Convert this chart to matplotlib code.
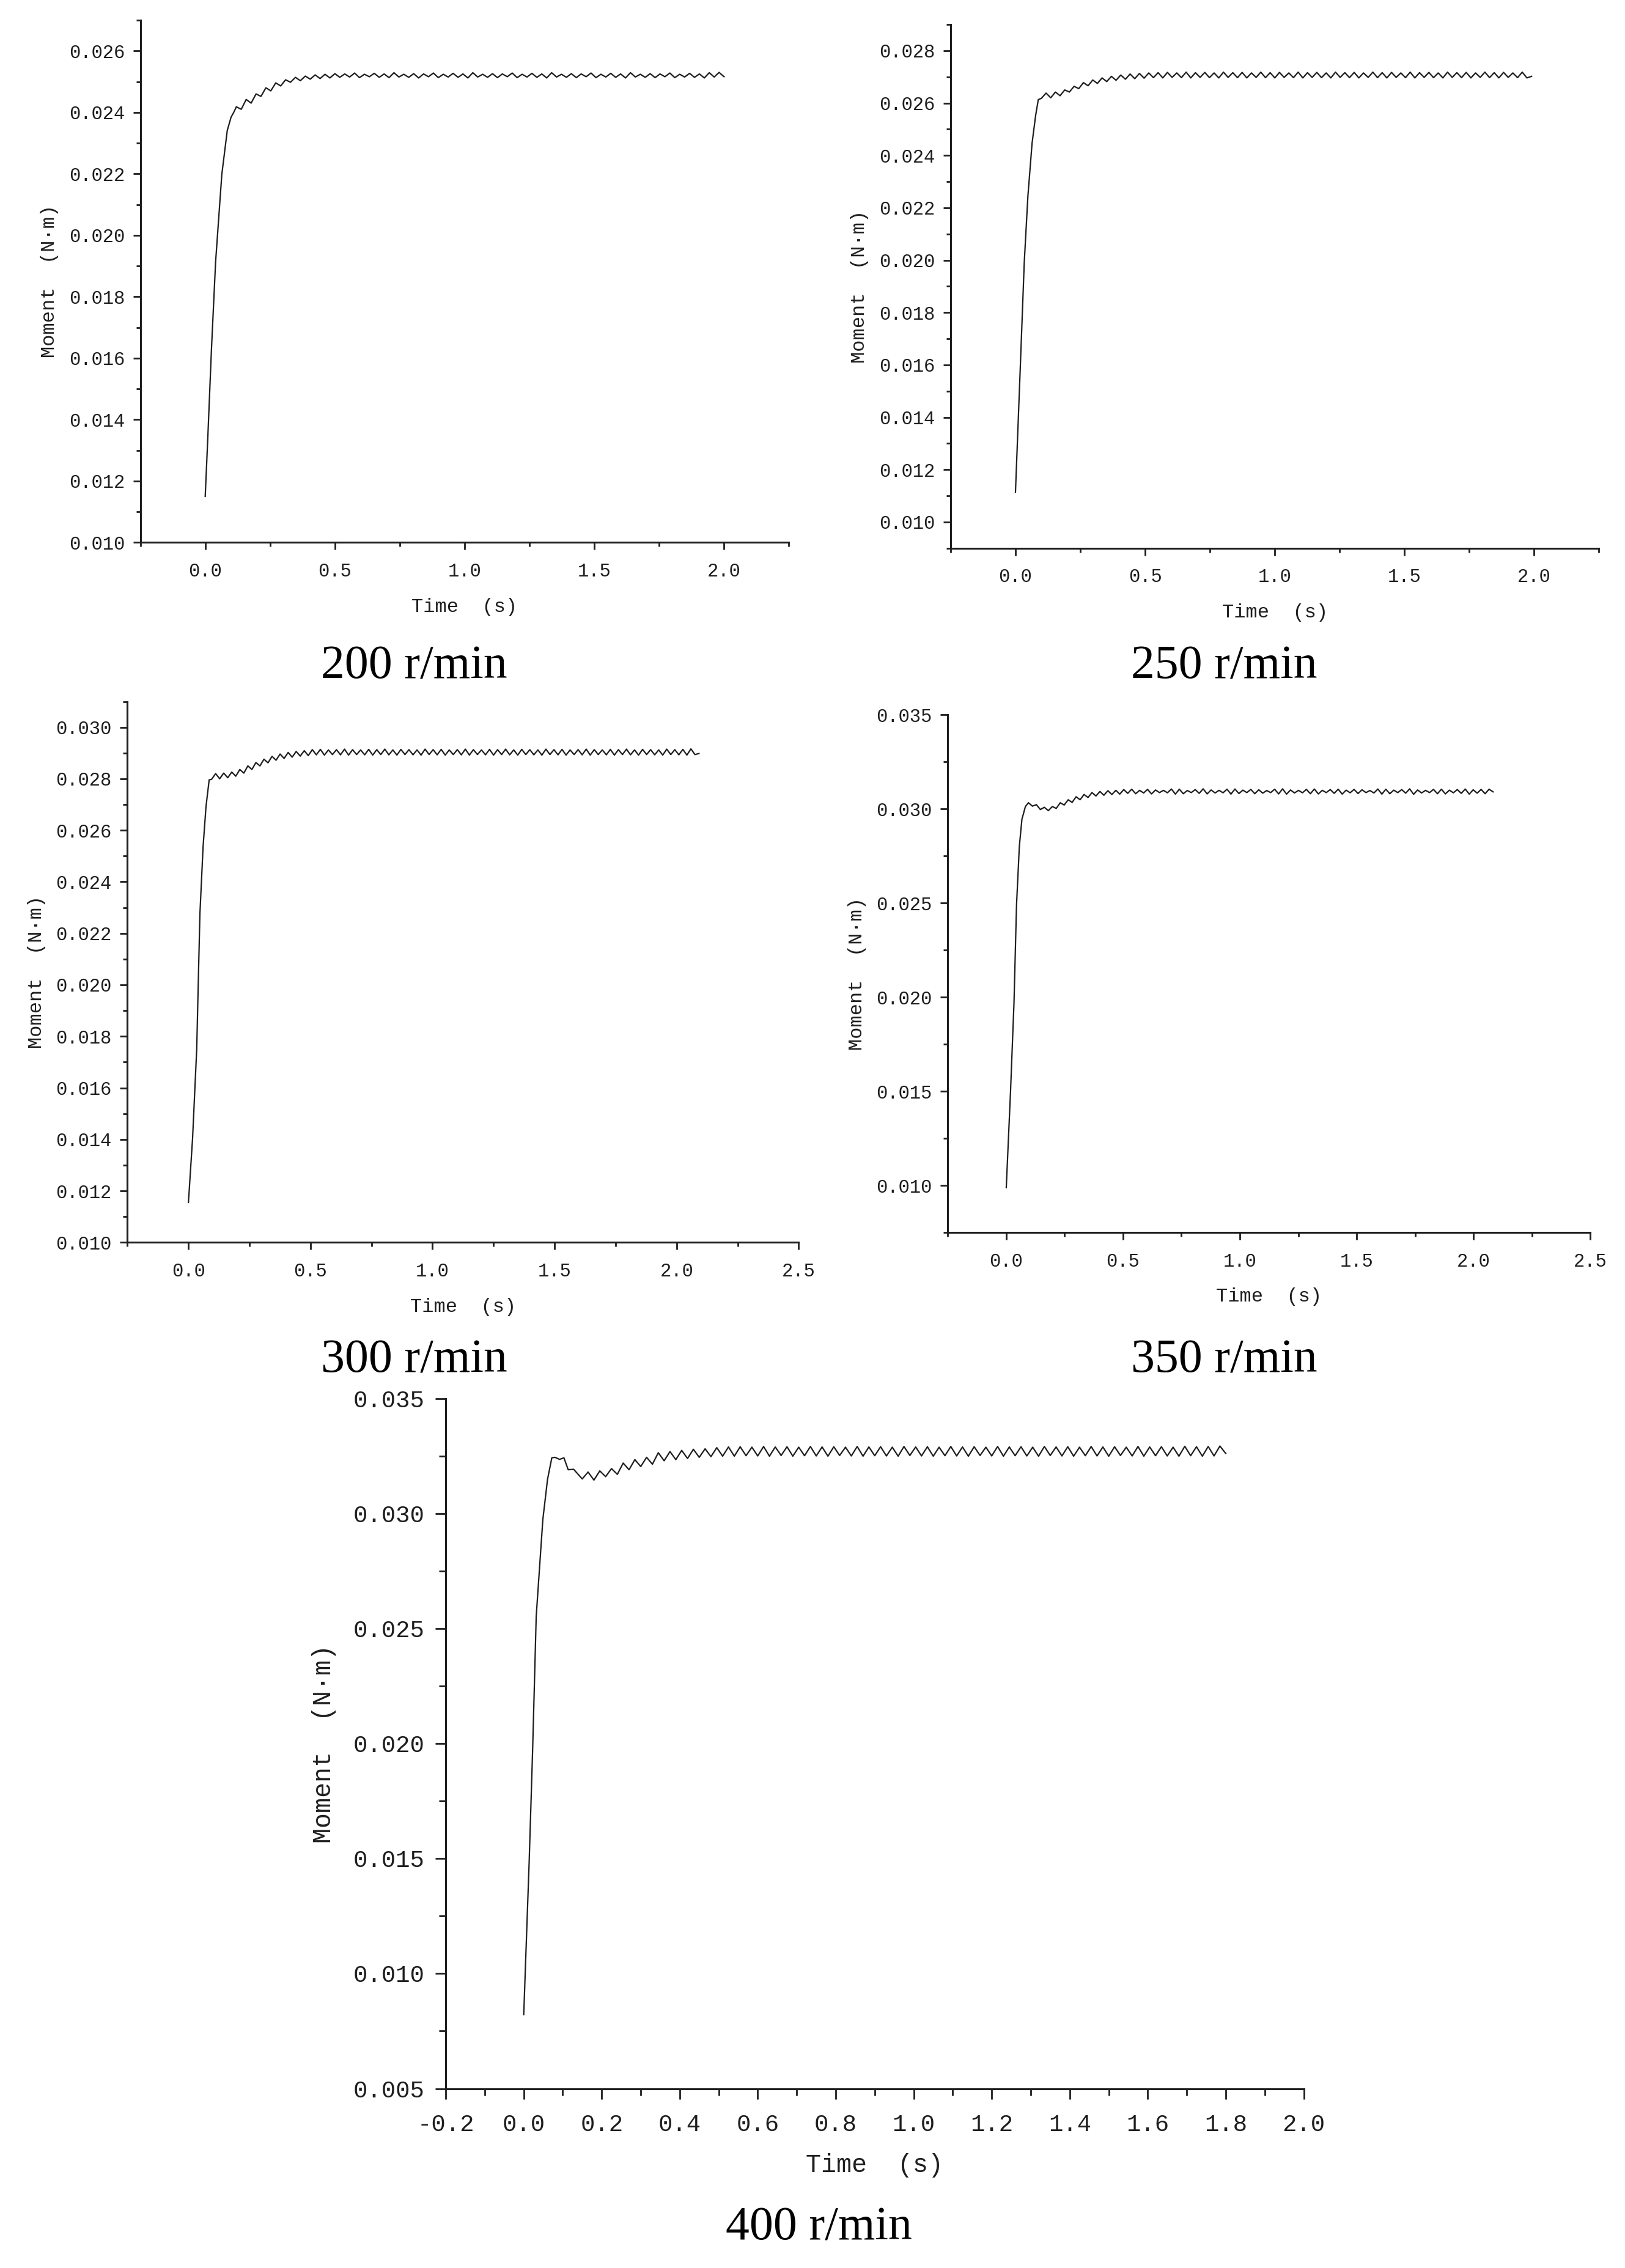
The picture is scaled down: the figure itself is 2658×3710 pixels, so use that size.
import numpy as np
import matplotlib as mpl
mpl.use('Agg')
import matplotlib.pyplot as plt
from matplotlib.ticker import MultipleLocator, FormatStrFormatter

speeds = ['200 r/min', '250 r/min', '300 r/min', '350 r/min', '400 r/min']

# ---- start-up part: time (s), moment (mN·m) ----
t_up_200 = [0.0, 0.010, 0.024, 0.040, 0.064, 0.085, 0.100, 0.110]
m_up_200 = [11.5, 13.42, 16.28, 19.13, 21.98, 23.41, 23.85, 24.0]
# ripple part, one sample every half ripple period
t0_200, dt_200 = 0.12, 0.019
m_rip_200 = [24.18, 24.10, 24.42, 24.30, 24.60, 24.52, 24.80, 24.70, 24.96, 24.86,
             25.06, 24.98, 25.14, 25.03, 25.18, 25.08, 25.22, 25.10, 25.24, 25.12,
             25.26, 25.14, 25.25, 25.15, 25.28, 25.13, 25.24, 25.16, 25.27, 25.14,
             25.25, 25.13, 25.29, 25.15, 25.24, 25.14, 25.26, 25.12, 25.25, 25.16,
             25.28, 25.13, 25.24, 25.15, 25.27, 25.14, 25.25, 25.12, 25.29, 25.15,
             25.24, 25.14, 25.26, 25.13, 25.25, 25.16, 25.28, 25.13, 25.24, 25.15,
             25.27, 25.14, 25.25, 25.12, 25.29, 25.15, 25.24, 25.14, 25.26, 25.13,
             25.25, 25.16, 25.28, 25.13, 25.24, 25.15, 25.27, 25.14, 25.25, 25.12,
             25.29, 25.15, 25.24, 25.14, 25.26, 25.13, 25.25, 25.16, 25.28, 25.13,
             25.24, 25.15, 25.27, 25.14, 25.25, 25.12, 25.29, 25.15, 25.30, 25.16]

t_up_250 = [0.0, 0.018, 0.034, 0.048, 0.064, 0.078, 0.088]
m_up_250 = [11.14, 15.75, 19.93, 22.45, 24.46, 25.54, 26.13]
t0_250, dt_250 = 0.10, 0.018
m_rip_250 = [26.18, 26.38, 26.20, 26.42, 26.28, 26.50, 26.42, 26.64, 26.55, 26.78,
             26.66, 26.88, 26.75, 26.96, 26.82, 27.02, 26.87, 27.07, 26.91, 27.11,
             26.93, 27.13, 26.95, 27.15,
             26.97, 27.16, 26.96, 27.17, 26.98, 27.15, 26.97, 27.18, 26.96, 27.16,
             26.98, 27.17, 26.97, 27.15, 26.96, 27.18, 26.98, 27.16, 26.97, 27.17,
             26.96, 27.15, 26.98, 27.18, 26.97, 27.16, 26.96, 27.17, 26.98, 27.15,
             26.97, 27.18, 26.96, 27.16, 26.98, 27.17, 26.97, 27.15, 26.96, 27.18,
             26.98, 27.16, 26.97, 27.17, 26.96, 27.15, 26.98, 27.18, 26.97, 27.16,
             26.96, 27.17, 26.98, 27.15, 26.97, 27.18, 26.96, 27.16, 26.98, 27.17,
             26.97, 27.15, 26.96, 27.18, 26.98, 27.16, 26.97, 27.17, 26.96, 27.15,
             26.98, 27.18, 26.97, 27.16, 26.96, 27.17, 26.98, 27.15, 26.97, 27.18,
             26.96, 27.02]

t_up_300 = [0.0, 0.017, 0.034, 0.047, 0.060, 0.072, 0.085]
m_up_300 = [11.55, 14.04, 17.52, 22.74, 25.35, 26.92, 27.96]
t0_300, dt_300 = 0.095, 0.0165
m_rip_300 = [27.98, 28.20, 28.00, 28.22, 28.04, 28.26, 28.10, 28.36, 28.22, 28.50,
             28.36, 28.63, 28.50, 28.76, 28.62, 28.87, 28.72, 28.96, 28.79, 29.02,
             28.84, 29.06, 28.88, 29.09, 28.90,
             29.13, 28.93, 29.14, 28.92, 29.12, 28.94, 29.13, 28.93, 29.15, 28.92,
             29.13, 28.94, 29.12, 28.93, 29.14, 28.92, 29.13, 28.94, 29.15, 28.93,
             29.12, 28.92, 29.14, 28.94, 29.13, 28.93, 29.12, 28.92, 29.15, 28.94,
             29.13, 28.93, 29.14, 28.92, 29.12, 28.94, 29.13, 28.93, 29.15, 28.92,
             29.13, 28.94, 29.12, 28.93, 29.14, 28.92, 29.13, 28.94, 29.15, 28.93,
             29.12, 28.92, 29.14, 28.94, 29.13, 28.93, 29.12, 28.92, 29.15, 28.94,
             29.13, 28.93, 29.14, 28.92, 29.12, 28.94, 29.13, 28.93, 29.15, 28.92,
             29.13, 28.94, 29.12, 28.93, 29.14, 28.92, 29.13, 28.94, 29.15, 28.93,
             29.12, 28.92, 29.14, 28.94, 29.13, 28.93, 29.12, 28.92, 29.15, 28.94,
             29.13, 28.93, 29.14, 28.92, 29.16, 28.94, 28.98]

t_up_350 = [0.0, 0.018, 0.033, 0.044, 0.056, 0.067, 0.082]
m_up_350 = [9.88, 14.9, 19.66, 24.9, 28.0, 29.44, 30.12]
t0_350, dt_350 = 0.095, 0.017
m_rip_350 = [30.32, 30.14, 30.22, 29.96, 30.08, 29.90, 30.12, 30.02, 30.32, 30.20,
             30.48, 30.34, 30.64, 30.48, 30.76, 30.60, 30.86, 30.68, 30.92, 30.72,
             30.96, 30.76, 30.98, 30.78,
             31.02, 30.82, 31.04, 30.80, 30.98, 30.84, 31.03, 30.79, 31.00, 30.86,
             30.98, 30.85, 31.05, 30.78, 31.04, 30.80, 30.97, 30.86, 31.02, 30.82,
             31.06, 30.79, 31.00, 30.84, 30.98, 30.85, 31.04, 30.78, 31.05, 30.81,
             30.99, 30.86, 31.03, 30.80, 31.01, 30.83, 30.97, 30.86, 31.04, 30.79,
             31.06, 30.78, 31.00, 30.84, 30.98, 30.85, 31.03, 30.80, 31.05, 30.79,
             30.98, 30.86, 31.02, 30.82, 31.04, 30.78, 30.99, 30.85, 31.03, 30.81,
             31.01, 30.86, 30.97, 30.84, 31.05, 30.78, 31.04, 30.80, 30.99, 30.86,
             31.02, 30.83, 31.06, 30.77, 31.00, 30.84, 30.98, 30.86, 31.03, 30.80,
             31.04, 30.79, 30.99, 30.85, 31.02, 30.82, 31.05, 30.78, 31.01, 30.83,
             31.03, 30.80, 31.04, 30.90]

t_up_400 = [0.0, 0.014, 0.023, 0.032, 0.049, 0.061, 0.072, 0.080, 0.092, 0.103, 0.114, 0.128]
m_up_400 = [8.22, 14.9, 19.85, 25.54, 29.75, 31.49, 32.43, 32.45, 32.36, 32.43, 31.91, 31.93]
t0_400, dt_400 = 0.150, 0.015
m_rip_400 = [31.51, 31.81, 31.46, 31.86, 31.61, 31.96, 31.71, 32.20, 31.91, 32.35,
             32.05, 32.45, 32.15, 32.65, 32.30, 32.70, 32.35, 32.75, 32.40, 32.80,
             32.45, 32.82, 32.48, 32.87, 32.50,
             32.90, 32.50, 32.91, 32.52, 32.89, 32.51, 32.92, 32.50, 32.90, 32.53,
             32.91, 32.50, 32.89, 32.52, 32.92, 32.51, 32.90, 32.50, 32.91, 32.53,
             32.89, 32.51, 32.92, 32.50, 32.90, 32.52, 32.91, 32.51, 32.89, 32.50,
             32.92, 32.53, 32.90, 32.51, 32.91, 32.50, 32.89, 32.52, 32.92, 32.51,
             32.90, 32.50, 32.91, 32.53, 32.89, 32.51, 32.92, 32.50, 32.90, 32.52,
             32.91, 32.51, 32.89, 32.50, 32.92, 32.53, 32.90, 32.51, 32.91, 32.50,
             32.89, 32.52, 32.92, 32.51, 32.90, 32.50, 32.91, 32.53, 32.89, 32.51,
             32.92, 32.50, 32.90, 32.52, 32.91, 32.51, 32.89, 32.50, 32.93, 32.52,
             32.91, 32.50, 32.92, 32.51, 32.94, 32.62]


def series(t_up, m_up, t0, dt, m_rip):
    t = np.concatenate([t_up, t0 + dt * np.arange(len(m_rip))])
    m = np.concatenate([m_up, m_rip]) / 1000.0   # mN·m -> N·m
    return t, m


data = [
    series(t_up_200, m_up_200, t0_200, dt_200, m_rip_200),
    series(t_up_250, m_up_250, t0_250, dt_250, m_rip_250),
    series(t_up_300, m_up_300, t0_300, dt_300, m_rip_300),
    series(t_up_350, m_up_350, t0_350, dt_350, m_rip_350),
    series(t_up_400, m_up_400, t0_400, dt_400, m_rip_400),
]

# axes layout (figure fraction) and scales for each panel
panels = [
    dict(rect=[0.0864, 0.7608, 0.3989, 0.2303], xlim=(-0.25, 2.25), ylim=(0.010, 0.027),
         xmaj=0.5, xmin=0.25, ymaj=0.002, ymin=0.001, title=(0.2547, 0.7060), big=False),
    dict(rect=[0.5850, 0.7583, 0.3990, 0.2309], xlim=(-0.25, 2.25), ylim=(0.009, 0.029),
         xmaj=0.5, xmin=0.25, ymaj=0.002, ymin=0.001, title=(0.7533, 0.7060), big=False),
    dict(rect=[0.0784, 0.4522, 0.4131, 0.2385], xlim=(-0.25, 2.5), ylim=(0.010, 0.031),
         xmaj=0.5, xmin=0.25, ymaj=0.002, ymin=0.001, title=(0.2547, 0.4000), big=False),
    dict(rect=[0.5833, 0.4566, 0.3953, 0.2283], xlim=(-0.25, 2.5), ylim=(0.0075, 0.035),
         xmaj=0.5, xmin=0.25, ymaj=0.005, ymin=0.0025, title=(0.7533, 0.4000), big=False),
    dict(rect=[0.2743, 0.0791, 0.5280, 0.3042], xlim=(-0.2, 2.0), ylim=(0.005, 0.035),
         xmaj=0.2, xmin=0.1, ymaj=0.005, ymin=0.0025, title=(0.504, 0.0175), big=True),
]

plt.rcParams['font.family'] = ['Liberation Mono', 'DejaVu Sans Mono']
plt.rcParams['axes.unicode_minus'] = False
ink = '#1e1e1e'

fig = plt.figure(figsize=(26.58, 37.10), dpi=100, facecolor='w')

for (t, m), p, name in zip(data, panels, speeds):
    ax = fig.add_axes(p['rect'])
    ax.plot(t, m, color=ink, lw=1.6)
    ax.set_xlim(*p['xlim'])
    ax.set_ylim(*p['ylim'])
    ax.xaxis.set_major_locator(MultipleLocator(p['xmaj']))
    ax.xaxis.set_minor_locator(MultipleLocator(p['xmin']))
    ax.yaxis.set_major_locator(MultipleLocator(p['ymaj']))
    ax.yaxis.set_minor_locator(MultipleLocator(p['ymin']))
    ax.xaxis.set_major_formatter(FormatStrFormatter('%.1f'))
    ax.yaxis.set_major_formatter(FormatStrFormatter('%.3f'))
    for s in ['top', 'right']:
        ax.spines[s].set_visible(False)
    for s in ['left', 'bottom']:
        ax.spines[s].set_linewidth(2.2)
        ax.spines[s].set_color(ink)

    if p['big']:
        fs_tick, fs_lab, maj, mnr = 28, 30, 12, 8
        ax.tick_params(axis='x', which='major', pad=18)
        ax.tick_params(axis='y', which='major', pad=13)
        xpad, ypad = 20, 20
    else:
        fs_tick, fs_lab, maj, mnr = 22, 23, 8.5, 5
        ax.tick_params(axis='x', which='major', pad=15)
        ax.tick_params(axis='y', which='major', pad=10)
        xpad, ypad = 20, 12
    ax.tick_params(which='both', direction='out', color=ink, width=2.0,
                   labelsize=fs_tick, labelcolor=ink)
    ax.tick_params(which='major', length=maj)
    ax.tick_params(which='minor', length=mnr)

    ax.set_xlabel('Time  (s)', fontsize=fs_lab, color=ink, labelpad=xpad)
    ax.set_ylabel('Moment  (N·m)', fontsize=fs_lab, color=ink, labelpad=ypad)

    fig.text(p['title'][0], p['title'][1], name, ha='center', va='center',
             family='Liberation Serif', fontsize=56, color='k')

fig.savefig('out.png', dpi=100, facecolor='w')
